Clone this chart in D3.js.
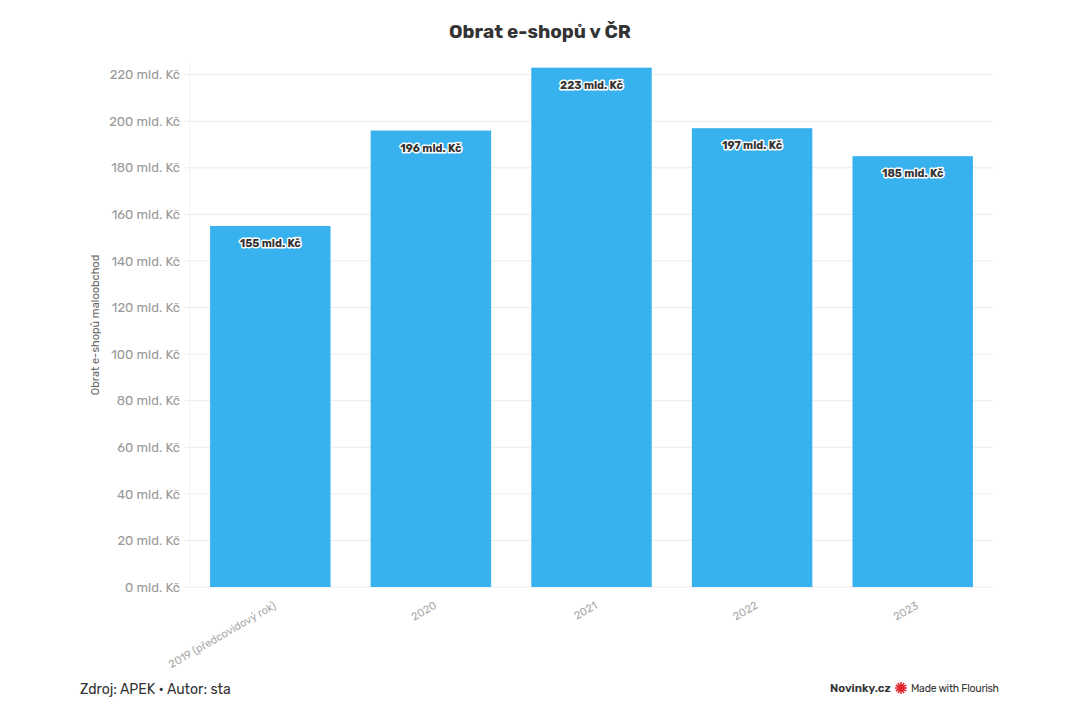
<!DOCTYPE html>
<html>
<head>
<meta charset="utf-8">
<script src="https://cdn.jsdelivr.net/npm/d3@7"></script>
<style>
    body { margin: 0; background: #fff; }
    svg { display: block; font-family: Rubik, Inter, "Noto Sans", sans-serif; }
</style>
</head>
<body>
<svg id="chart" width="1080" height="720"></svg>
<script>
const categories = ["2019 (předcovidový rok)", "2020", "2021", "2022", "2023"];
const values = [155, 196, 223, 197, 185];
const yTicks = [0, 20, 40, 60, 80, 100, 120, 140, 160, 180, 200, 220];

const svg = d3.select("#chart");
const margin = { top: 63, left: 190, right: 87, bottom: 133 };
const width = 1080, height = 720;

const x = d3.scaleBand()
    .domain(categories)
    .range([margin.left, width - margin.right])
    .paddingInner(0.25)
    .paddingOuter(0.125);

const y = d3.scaleLinear()
    .domain([0, 225])
    .range([height - margin.bottom, margin.top]);

// title
svg.append("text")
    .attr("x", 540)
    .attr("y", 38)
    .attr("text-anchor", "middle")
    .style("font-size", "19px")
    .style("font-weight", "700")
    .style("fill", "#333")
    .text("Obrat e-shopů v ČR");

// grid
svg.append("g")
    .selectAll("line")
    .data(yTicks)
    .enter()
    .append("line")
    .attr("x1", margin.left - 6)
    .attr("x2", width - margin.right)
    .attr("y1", d => y(d))
    .attr("y2", d => y(d))
    .style("stroke", "#ececec")
    .style("stroke-width", "1px");

svg.append("line")
    .attr("x1", margin.left)
    .attr("x2", margin.left)
    .attr("y1", y.range()[1])
    .attr("y2", y(0))
    .style("stroke", "#f2f2f2");

// y axis
const yAxis = svg.append("g")
    .attr("transform", "translate(" + (margin.left - 7) + ",0)")
    .call(d3.axisLeft(y).tickValues(yTicks).tickSize(0).tickFormat(d => d + " mld. Kč"));
yAxis.select(".domain").remove();
yAxis.selectAll("text")
    .style("font-size", "13px")
    .style("fill", "#999")
    .style("font-family", "Rubik, Inter, 'Noto Sans', sans-serif");

svg.append("text")
    .attr("transform", "translate(99," + 325 + ") rotate(-90)")
    .attr("text-anchor", "middle")
    .style("font-size", "11px")
    .style("fill", "#666")
    .text("Obrat e-shopů maloobchod");

// x axis
const xAxis = svg.append("g")
    .attr("transform", "translate(0," + y(0) + ")")
    .call(d3.axisBottom(x).tickSize(0));
xAxis.select(".domain").remove();
xAxis.selectAll("text")
    .attr("text-anchor", "end")
    .attr("dy", 0)
    .attr("transform", "translate(5,18) rotate(-30)")
    .style("font-size", "11px")
    .style("fill", "#aaa")
    .style("font-family", "Rubik, Inter, 'Noto Sans', sans-serif");

// bars
svg.append("g")
    .selectAll("rect")
    .data(values)
    .enter()
    .append("rect")
    .attr("x", (d, i) => x(categories[i]))
    .attr("y", d => y(d))
    .attr("width", x.bandwidth())
    .attr("height", d => y(0) - y(d))
    .style("fill", "#37b2ef");

// value labels
svg.append("g")
    .selectAll("text")
    .data(values)
    .enter()
    .append("text")
    .attr("x", (d, i) => x(categories[i]) + x.bandwidth() / 2)
    .attr("y", d => y(d) + 21)
    .attr("text-anchor", "middle")
    .style("font-size", "11px")
    .style("font-weight", "700")
    .style("fill", "#333")
    .style("stroke", "#fff")
    .style("stroke-width", "3px")
    .style("stroke-linejoin", "round")
    .style("paint-order", "stroke")
    .text(d => d + " mld. Kč");

// footer
svg.append("text")
    .attr("x", 80)
    .attr("y", 694)
    .style("font-size", "14px")
    .style("fill", "#333")
    .text("Zdroj: APEK • Autor: sta");

svg.append("text")
    .attr("x", 830)
    .attr("y", 692)
    .style("font-size", "11.5px")
    .style("font-weight", "600")
    .style("fill", "#333")
    .text("Novinky.cz");

const star = svg.append("g").attr("transform", "translate(901,688)");
d3.range(12).forEach(i => {
    star.append("line")
        .attr("x1", 0).attr("y1", 0)
        .attr("x2", 6 * Math.cos(i * Math.PI / 6))
        .attr("y2", 6 * Math.sin(i * Math.PI / 6))
        .style("stroke", "#e0262e")
        .style("stroke-width", "1.5px");
});
star.append("circle").attr("r", 3.5).style("fill", "#e0262e");

svg.append("text")
    .attr("x", 911)
    .attr("y", 692)
    .style("font-size", "10.5px")
    .style("fill", "#333")
    .attr("textLength", 88)
    .text("Made with Flourish");
</script>
</body>
</html>
